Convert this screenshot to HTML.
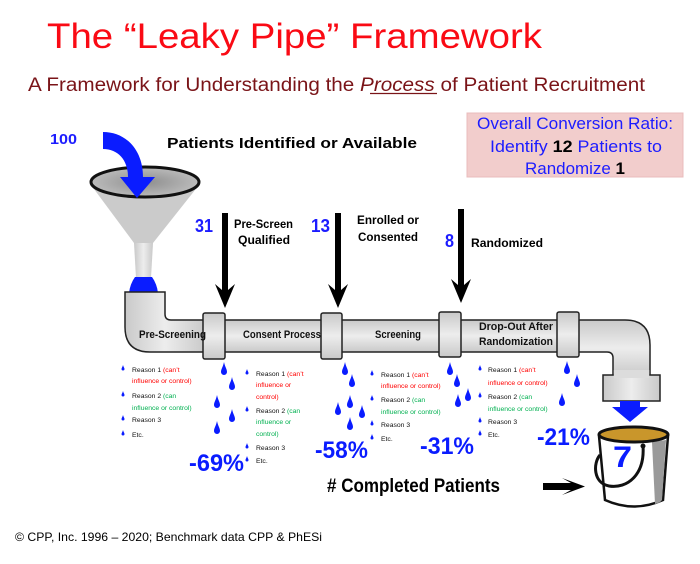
<!DOCTYPE html>
<html><head><meta charset="utf-8"><style>
html,body{margin:0;padding:0;background:#fff;}
svg{display:block;}
text{font-family:"Liberation Sans",sans-serif;}
</style></head><body>
<svg width="700" height="564" viewBox="0 0 700 564" xmlns="http://www.w3.org/2000/svg">
<defs>
<linearGradient id="pg" x1="0" y1="0" x2="0" y2="1">
<stop offset="0" stop-color="#c9c9c9"/><stop offset="0.5" stop-color="#ededed"/><stop offset="1" stop-color="#c9c9c9"/>
</linearGradient>
<linearGradient id="vg" x1="0" y1="0" x2="1" y2="0">
<stop offset="0" stop-color="#c9c9c9"/><stop offset="0.5" stop-color="#ededed"/><stop offset="1" stop-color="#c9c9c9"/>
</linearGradient>
<radialGradient id="fg" cx="0.5" cy="0.5" r="0.6">
<stop offset="0" stop-color="#8e8e8e"/><stop offset="1" stop-color="#c4c4c4"/>
</radialGradient>
<path id="drop" d="M0,0 C1,5 3,7 3,10 A3,3 0 0 1 -3,10 C-3,7 -1,5 0,0 Z" fill="#0a1cff"/>
<path id="bd" d="M0,0 C0.5,2 1.5,3 1.5,4 A1.5,1.5 0 0 1 -1.5,4 C-1.5,3 -0.5,2 0,0 Z" fill="#0a1cff"/>
</defs>

<!-- Title -->
<text x="47" y="48" font-size="35" fill="#fa0a14" textLength="495" lengthAdjust="spacingAndGlyphs">The “Leaky Pipe” Framework</text>
<text x="28" y="91" font-size="19" fill="#7a1418" textLength="617" lengthAdjust="spacingAndGlyphs">A Framework for Understanding the <tspan font-style="italic">Process</tspan> of Patient Recruitment</text>
<line x1="370" y1="93.5" x2="437" y2="93.5" stroke="#7a1418" stroke-width="1.3"/>

<!-- Box -->
<rect x="467" y="113" width="216" height="64" fill="#f2cdcc" stroke="#e9bcbc" stroke-width="1"/>
<text x="477" y="129" font-size="17" fill="#1c1cff" textLength="196" lengthAdjust="spacingAndGlyphs">Overall Conversion Ratio:</text>
<text x="490" y="152" font-size="17" fill="#1c1cff" textLength="172" lengthAdjust="spacingAndGlyphs">Identify <tspan fill="#000" font-weight="bold">12</tspan> Patients to</text>
<text x="525" y="174" font-size="17" fill="#1c1cff" textLength="100" lengthAdjust="spacingAndGlyphs">Randomize <tspan fill="#000" font-weight="bold">1</tspan></text>

<!-- 100 & heading -->
<text x="50" y="144" font-size="15" font-weight="bold" fill="#1c1cff" textLength="27" lengthAdjust="spacingAndGlyphs">100</text>
<text x="167" y="148" font-size="15" font-weight="bold" fill="#000" textLength="250" lengthAdjust="spacingAndGlyphs">Patients Identified or Available</text>

<!-- Funnel -->
<polygon points="91,185 199,185 153,243 134,243" fill="#cbcbcb"/>
<path d="M134,243 L153,243 L151,278 L136,278 Z" fill="url(#vg)"/>
<ellipse cx="145" cy="182" rx="54" ry="15" fill="url(#fg)" stroke="#111" stroke-width="3"/>
<path d="M103,132 C126,132 143,150 143,177 L155,177 L137,198 L120,177 L128,177 C128,160 118,149 103,149 Z" fill="#0a1cff"/>
<path d="M135,277 L152,277 Q157,284 158,293 L129,293 Q130,284 135,277 Z" fill="#0a1cff"/>

<!-- Stage numbers and labels -->
<text x="195" y="232" font-size="18" font-weight="bold" fill="#1c1cff" textLength="18" lengthAdjust="spacingAndGlyphs">31</text>
<text x="234" y="228" font-size="12" font-weight="bold" fill="#000" textLength="59" lengthAdjust="spacingAndGlyphs">Pre-Screen</text>
<text x="238" y="244" font-size="12" font-weight="bold" fill="#000" textLength="52" lengthAdjust="spacingAndGlyphs">Qualified</text>
<text x="311" y="232" font-size="18" font-weight="bold" fill="#1c1cff" textLength="19" lengthAdjust="spacingAndGlyphs">13</text>
<text x="357" y="224" font-size="12" font-weight="bold" fill="#000" textLength="62" lengthAdjust="spacingAndGlyphs">Enrolled or</text>
<text x="358" y="241" font-size="12" font-weight="bold" fill="#000" textLength="60" lengthAdjust="spacingAndGlyphs">Consented</text>
<text x="445" y="247" font-size="18" font-weight="bold" fill="#1c1cff" textLength="9" lengthAdjust="spacingAndGlyphs">8</text>
<text x="471" y="247" font-size="12" font-weight="bold" fill="#000" textLength="72" lengthAdjust="spacingAndGlyphs">Randomized</text>

<!-- Black down arrows -->
<path d="M222,213 H228 V290 L235,284 L225,308 L215,284 L222,290 Z" fill="#000"/>
<path d="M335,213 H341 V290 L348,284 L338,308 L328,284 L335,290 Z" fill="#000"/>
<path d="M458,209 H464 V285 L471,279 L461,303 L451,279 L458,285 Z" fill="#000"/>

<!-- Pipe -->
<path d="M125,292 L165,292 L165,314 Q165,320 171,320 L205,320 L205,352 L150,352 Q125,352 125,327 Z" fill="url(#vg)" stroke="#222" stroke-width="1.5"/>
<rect x="224" y="320" width="100" height="32" fill="url(#pg)" stroke="#222" stroke-width="1.5"/>
<rect x="341" y="320" width="100" height="32" fill="url(#pg)" stroke="#222" stroke-width="1.5"/>
<rect x="460" y="320" width="99" height="32" fill="url(#pg)" stroke="#222" stroke-width="1.5"/>
<path d="M578,320 L625,320 Q650,320 650,345 L650,376 L613,376 L613,358 Q613,352 607,352 L578,352 Z" fill="url(#pg)" stroke="#222" stroke-width="1.5"/>
<rect x="603" y="375" width="57" height="26" fill="url(#vg)" stroke="#222" stroke-width="1.5"/>
<rect x="613.8" y="370" width="35.4" height="8" fill="#dcdcdc"/>
<rect x="203" y="313" width="22" height="46" rx="2" fill="url(#pg)" stroke="#222" stroke-width="1.5"/>
<rect x="321" y="313" width="21" height="46" rx="2" fill="url(#pg)" stroke="#222" stroke-width="1.5"/>
<rect x="439" y="312" width="22" height="45" rx="2" fill="url(#pg)" stroke="#222" stroke-width="1.5"/>
<rect x="557" y="312" width="22" height="45" rx="2" fill="url(#pg)" stroke="#222" stroke-width="1.5"/>

<text x="139" y="338" font-size="11" font-weight="bold" fill="#111" textLength="67" lengthAdjust="spacingAndGlyphs">Pre-Screening</text>
<text x="243" y="338" font-size="11" font-weight="bold" fill="#111" textLength="78" lengthAdjust="spacingAndGlyphs">Consent Process</text>
<text x="375" y="338" font-size="11" font-weight="bold" fill="#111" textLength="46" lengthAdjust="spacingAndGlyphs">Screening</text>
<text x="479" y="330" font-size="11" font-weight="bold" fill="#111" textLength="74" lengthAdjust="spacingAndGlyphs">Drop-Out After</text>
<text x="479" y="345" font-size="11" font-weight="bold" fill="#111" textLength="74" lengthAdjust="spacingAndGlyphs">Randomization</text>

<!-- Drops -->
<use href="#drop" x="224" y="362"/><use href="#drop" x="232" y="377"/><use href="#drop" x="217" y="395"/><use href="#drop" x="232" y="409"/><use href="#drop" x="217" y="421"/>
<use href="#drop" x="345" y="362"/><use href="#drop" x="352" y="374"/><use href="#drop" x="350" y="395"/><use href="#drop" x="338" y="402"/><use href="#drop" x="362" y="405"/><use href="#drop" x="350" y="417"/>
<use href="#drop" x="450" y="362"/><use href="#drop" x="457" y="374"/><use href="#drop" x="458" y="394"/><use href="#drop" x="468" y="388"/>
<use href="#drop" x="567" y="361"/><use href="#drop" x="577" y="374"/><use href="#drop" x="562" y="393"/>

<!-- Bullet lists -->
<g font-size="6.8" fill="#111">
<use href="#bd" x="123" y="365"/><text x="132" y="372">Reason 1 <tspan fill="#ff0000">(can’t</tspan></text>
<text x="132" y="383" fill="#ff0000">influence or control)</text>
<use href="#bd" x="123" y="391"/><text x="132" y="398">Reason 2 <tspan fill="#00b050">(can</tspan></text>
<text x="132" y="410" fill="#00b050">influence or control)</text>
<use href="#bd" x="123" y="415"/><text x="132" y="422">Reason 3</text>
<use href="#bd" x="123" y="430"/><text x="132" y="437">Etc.</text>

<use href="#bd" x="247" y="369"/><text x="256" y="376">Reason 1 <tspan fill="#ff0000">(can’t</tspan></text>
<text x="256" y="387" fill="#ff0000">influence or</text>
<text x="256" y="399" fill="#ff0000">control)</text>
<use href="#bd" x="247" y="406"/><text x="256" y="413">Reason 2 <tspan fill="#00b050">(can</tspan></text>
<text x="256" y="424" fill="#00b050">influence or</text>
<text x="256" y="436" fill="#00b050">control)</text>
<use href="#bd" x="247" y="443"/><text x="256" y="450">Reason 3</text>
<use href="#bd" x="247" y="456"/><text x="256" y="463">Etc.</text>

<use href="#bd" x="372" y="370"/><text x="381" y="377">Reason 1 <tspan fill="#ff0000">(can’t</tspan></text>
<text x="381" y="388" fill="#ff0000">influence or control)</text>
<use href="#bd" x="372" y="395"/><text x="381" y="402">Reason 2 <tspan fill="#00b050">(can</tspan></text>
<text x="381" y="414" fill="#00b050">influence or control)</text>
<use href="#bd" x="372" y="420"/><text x="381" y="427">Reason 3</text>
<use href="#bd" x="372" y="434"/><text x="381" y="441">Etc.</text>

<use href="#bd" x="480" y="365"/><text x="488" y="372">Reason 1 <tspan fill="#ff0000">(can’t</tspan></text>
<text x="488" y="385" fill="#ff0000">influence or control)</text>
<use href="#bd" x="480" y="392"/><text x="488" y="399">Reason 2 <tspan fill="#00b050">(can</tspan></text>
<text x="488" y="411" fill="#00b050">influence or control)</text>
<use href="#bd" x="480" y="417"/><text x="488" y="424">Reason 3</text>
<use href="#bd" x="480" y="430"/><text x="488" y="437">Etc.</text>
</g>

<!-- Percentages -->
<g font-size="24" font-weight="bold" fill="#0a1cff">
<text x="189" y="471" textLength="55" lengthAdjust="spacingAndGlyphs">-69%</text>
<text x="315" y="458" textLength="53" lengthAdjust="spacingAndGlyphs">-58%</text>
<text x="420" y="454" textLength="54" lengthAdjust="spacingAndGlyphs">-31%</text>
<text x="537" y="445" textLength="53" lengthAdjust="spacingAndGlyphs">-21%</text>
</g>

<!-- Blue arrow into bucket -->
<path d="M620,401 L640,401 L640,407 L648,407 L630,422 L612,407 L620,407 Z" fill="#0a1cff"/>

<!-- Bucket -->
<path d="M599,436 L605,500 Q634,513 663,500 L668,436 Z" fill="#fff" stroke="#111" stroke-width="2.5"/>
<path d="M652,442 L655,504 Q660,503 662,500 L666,440 Z" fill="#9a9a9a"/>
<ellipse cx="633.5" cy="434.5" rx="34.5" ry="7.5" fill="#c9962b" stroke="#111" stroke-width="3"/>
<text x="613" y="467" font-size="30" font-weight="bold" fill="#0a1cff" textLength="19" lengthAdjust="spacingAndGlyphs">7</text>
<path d="M643,446 C645,475 627,489 609,486 C593,483 593,463 600,455" fill="none" stroke="#111" stroke-width="3"/>
<circle cx="643" cy="446" r="2.5" fill="#111"/>

<!-- Black arrow -->
<path d="M543,483 H571 L562,478 L585,486.5 L562,495 L571,490 H543 Z" fill="#000"/>

<text x="327" y="492" font-size="19" font-weight="bold" fill="#000" textLength="173" lengthAdjust="spacingAndGlyphs"># Completed Patients</text>

<text x="15" y="541" font-size="12" fill="#000" textLength="307" lengthAdjust="spacingAndGlyphs">© CPP, Inc. 1996 – 2020; Benchmark data CPP &amp; PhESi</text>
</svg>
</body></html>
